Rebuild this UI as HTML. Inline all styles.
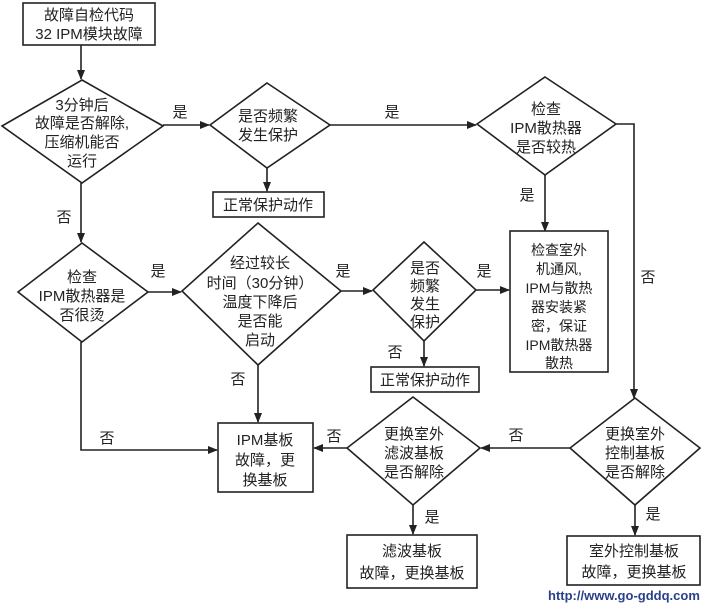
<!DOCTYPE html>
<html><head><meta charset="utf-8"><style>
html,body{margin:0;padding:0;background:#fff;}
svg{display:block;}
text{font-family:"Liberation Sans","Noto Sans CJK SC",sans-serif;font-size:15px;fill:#222;text-anchor:middle;}
.s{fill:none;stroke:#222;stroke-width:1.6;}
.b{fill:#fff;stroke:#222;stroke-width:1.6;}
</style></head><body>
<svg width="726" height="605" viewBox="0 0 726 605" xmlns="http://www.w3.org/2000/svg">
<defs><marker id="a" markerWidth="10" markerHeight="8" refX="9" refY="4" orient="auto" markerUnits="userSpaceOnUse"><path d="M0,0 L10,4 L0,8 Z" fill="#222"/></marker></defs>

<g class="s" marker-end="url(#a)">
<path d="M81,45 V79"/>
<path d="M163,125 H209"/>
<path d="M267,168 V191"/>
<path d="M330,125 H476"/>
<path d="M545,175 V231"/>
<path d="M616,124 H634 V398"/>
<path d="M81,183 V242"/>
<path d="M148,292 H181"/>
<path d="M341,291 H372"/>
<path d="M476,290 H509"/>
<path d="M424,341 V366"/>
<path d="M258,365 V422"/>
<path d="M81,342 V450 H217"/>
<path d="M347,448 H314"/>
<path d="M570,448 H481"/>
<path d="M413,505 V534"/>
<path d="M635,505 V535"/>
</g>

<rect class="b" x="23" y="3" width="132" height="42"/>
<text x="89" y="20">故障自检代码</text>
<text x="89" y="39">32  IPM模块故障</text>

<rect class="b" x="213" y="192" width="111" height="25"/>
<text x="268" y="210">正常保护动作</text>

<rect class="b" x="510" y="231" width="98" height="141"/>
<g style="font-size:14px">
<text x="559" y="255" style="font-size:14px">检查室外</text>
<text x="559" y="274" style="font-size:14px">机通风,</text>
<text x="559" y="293" style="font-size:14px">IPM与散热</text>
<text x="559" y="312" style="font-size:14px">器安装紧</text>
<text x="559" y="331" style="font-size:14px">密，保证</text>
<text x="559" y="350" style="font-size:14px">IPM散热器</text>
<text x="559" y="368" style="font-size:14px">散热</text>
</g>

<rect class="b" x="371" y="367" width="108" height="25"/>
<text x="425" y="385">正常保护动作</text>

<rect class="b" x="218" y="423" width="95" height="69"/>
<text x="265" y="445">IPM基板</text>
<text x="265" y="465">故障，更</text>
<text x="265" y="485">换基板</text>

<rect class="b" x="347" y="535" width="130" height="53"/>
<text x="412" y="556">滤波基板</text>
<text x="412" y="578">故障，更换基板</text>

<rect class="b" x="567" y="536" width="133" height="49"/>
<text x="634" y="556">室外控制基板</text>
<text x="634" y="577">故障，更换基板</text>

<polygon class="b" points="82,80 163,126 82,183 2,126"/>
<text x="82" y="110">3分钟后</text>
<text x="82" y="128">故障是否解除,</text>
<text x="82" y="147">压缩机能否</text>
<text x="82" y="166">运行</text>

<polygon class="b" points="267,83 330,125 267,168 210,125"/>
<text x="268" y="121">是否频繁</text>
<text x="268" y="140">发生保护</text>

<polygon class="b" points="545,77 616,124 545,175 477,124"/>
<text x="546" y="114">检查</text>
<text x="546" y="133">IPM散热器</text>
<text x="546" y="152">是否较热</text>

<polygon class="b" points="82,243 148,292 82,342 18,292"/>
<text x="82" y="282">检查</text>
<text x="82" y="301">IPM散热器是</text>
<text x="82" y="320">否很烫</text>

<polygon class="b" points="258,223 341,291 258,365 182,291"/>
<text x="260" y="268">经过较长</text>
<text x="260" y="288">时间（30分钟）</text>
<text x="260" y="307">温度下降后</text>
<text x="260" y="326">是否能</text>
<text x="260" y="345">启动</text>

<polygon class="b" points="424,242 476,290 424,341 373,290"/>
<text x="425" y="273">是否</text>
<text x="425" y="291">频繁</text>
<text x="425" y="309">发生</text>
<text x="425" y="327">保护</text>

<polygon class="b" points="413,397 480,448 413,505 347,448"/>
<text x="414" y="439">更换室外</text>
<text x="414" y="458">滤波基板</text>
<text x="414" y="477">是否解除</text>

<polygon class="b" points="635,398 700,448 635,505 570,448"/>
<text x="635" y="439">更换室外</text>
<text x="635" y="458">控制基板</text>
<text x="635" y="477">是否解除</text>

<text x="180" y="117">是</text>
<text x="392" y="117">是</text>
<text x="527" y="200">是</text>
<text x="648" y="282">否</text>
<text x="64" y="222">否</text>
<text x="158" y="276">是</text>
<text x="343" y="276">是</text>
<text x="484" y="276">是</text>
<text x="395" y="357">否</text>
<text x="238" y="384">否</text>
<text x="107" y="443">否</text>
<text x="334" y="441">否</text>
<text x="516" y="440">否</text>
<text x="432" y="522">是</text>
<text x="653" y="519">是</text>
<text x="548" y="600" style="font-size:13px;fill:#2a3f8a;text-anchor:start;font-weight:bold">http://www.go-gddq.com</text>
</svg>
</body></html>
